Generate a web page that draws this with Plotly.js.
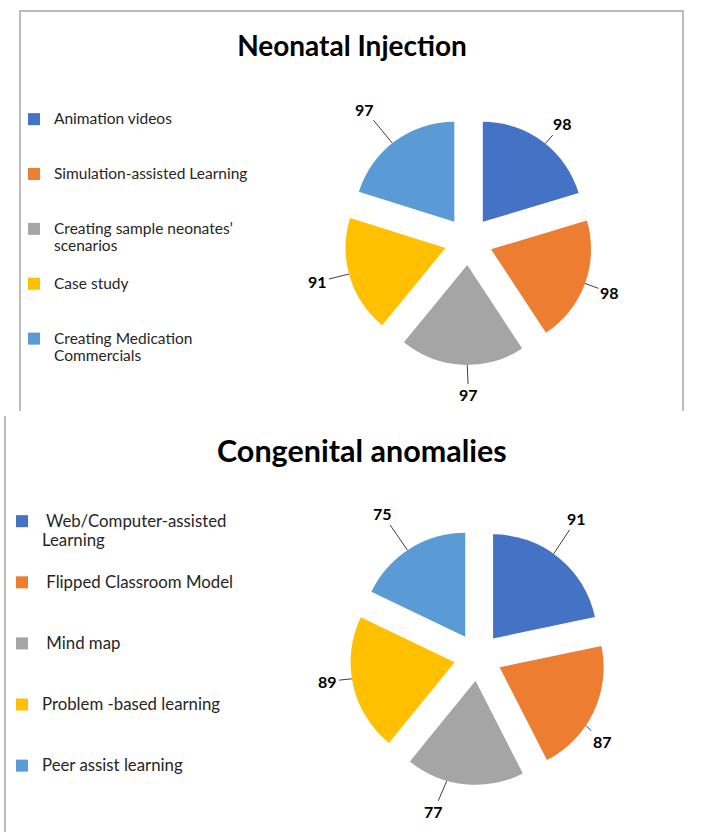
<!DOCTYPE html>
<html>
<head>
<meta charset="utf-8">
<script src="https://cdn.plot.ly/plotly-3.0.1.min.js"></script>
<style>
  html, body { margin: 0; padding: 0; background: #ffffff; }
  #chart { width: 709px; height: 832px; }
</style>
</head>
<body>
<div id="chart"></div>
<script>
// Teaching strategies rated for each topic (%)
const injectionTitle = "Neonatal Injection";
const injectionLabels = [
  "Animation videos",
  "Simulation-assisted Learning",
  "Creating sample neonates\u2019<br>scenarios",
  "Case study",
  "Creating Medication<br>Commercials"
];
const injectionValues = [98, 98, 97, 91, 97];

const anomalyTitle = "Congenital anomalies";
const anomalyLabels = [
  "\u00a0Web/Computer-assisted<br>Learning",
  "\u00a0Flipped Classroom Model",
  "\u00a0Mind map",
  "Problem -based learning",
  "Peer assist learning"
];
const anomalyValues = [91, 87, 77, 89, 75];

const sliceColors = ["#4472C4", "#ED7D31", "#A5A5A5", "#FFC000", "#5B9BD5"];

// label placement: angular nudge (deg) and distance beyond the slice edge (px)
const injectionLabelNudge = [2, 0, -3, 1.5, -2];
const injectionLabelGap = [26, 26, 30, 32, 44];
const anomalyLabelNudge = [-3.5, 8.5, 10, 3.5, -1.5];
const anomalyLabelGap = [42, 22, 33, 24, 44];

const W = 709, H = 832;
const FONT = "Lato, Carlito, Calibri, 'Open Sans', sans-serif";
const fx = p => p / W;          // pixel -> paper x
const fy = p => 1 - p / H;      // pixel -> paper y

// every legend entry gets the same number of lines so the entries are evenly spaced;
// the visible text is set a little larger than the legend's line pitch
function legendText(label, n, size) {
  const lines = label.split("<br>").map(l => '<span style="font-size:' + size + 'px">' + l + "</span>");
  while (lines.length < n) lines.push("\u00a0");
  return lines.join("<br>");
}

const topPull = 0.24, bottomPull = 0.23;

const traces = [
  {
    type: "pie",
    labels: injectionLabels.map(s => legendText(s, 3, 15.5)),
    values: injectionValues,
    sort: false,
    direction: "clockwise",
    rotation: 0,
    pull: topPull,
    marker: { colors: sliceColors, line: { width: 0 } },
    textinfo: "none",
    hoverinfo: "label+value",
    domain: { x: [fx(344.5), fx(592.5)], y: [fy(365), fy(117)] },
    legend: "legend"
  },
  {
    type: "pie",
    labels: anomalyLabels.map(s => legendText(s, 3, 16.8)),
    values: anomalyValues,
    sort: false,
    direction: "clockwise",
    rotation: 0,
    pull: bottomPull,
    marker: { colors: sliceColors, line: { width: 0 } },
    textinfo: "none",
    hoverinfo: "label+value",
    domain: { x: [fx(350), fx(606)], y: [fy(785), fy(529)] },
    legend: "legend2"
  }
];

// panel frames
const frameColor = "#a6a6a6";
function pathPx(points) {
  return points.map((p, i) => (i ? "L" : "M") + fx(p[0]).toFixed(5) + "," + fy(p[1]).toFixed(5)).join(" ");
}
const shapes = [
  { type: "path", xref: "paper", yref: "paper",
    path: pathPx([[20, 411], [20, 11], [683, 11], [683, 411]]),
    line: { color: frameColor, width: 1.5 } },
  { type: "path", xref: "paper", yref: "paper",
    path: pathPx([[5, 416], [5, 832]]),
    line: { color: frameColor, width: 1.5 } }
];

const titleAnnotation = {
  xref: "paper", yref: "paper", x: fx(362), y: fy(450),
  xanchor: "center", yanchor: "middle", showarrow: false,
  text: "<b>" + anomalyTitle + "</b>",
  font: { family: FONT, size: 30.5, color: "#000000" }
};

const layout = {
  width: W, height: H,
  margin: { l: 0, r: 0, t: 0, b: 0 },
  paper_bgcolor: "#ffffff",
  showlegend: true,
  title: {
    text: "<b>" + injectionTitle + "</b>",
    x: fx(352), xref: "paper", xanchor: "center",
    y: fy(46), yref: "container", yanchor: "middle",
    font: { family: FONT, size: 28, color: "#000000" }
  },
  legend: {
    x: fx(14), xanchor: "left", y: fy(104), yanchor: "top",
    orientation: "v", valign: "top",
    font: { family: FONT, size: 13.3, color: "#262626" },
    bgcolor: "rgba(0,0,0,0)", borderwidth: 0
  },
  legend2: {
    x: fx(2), xanchor: "left", y: fy(505), yanchor: "top",
    orientation: "v", valign: "top",
    font: { family: FONT, size: 14.9, color: "#262626" },
    bgcolor: "rgba(0,0,0,0)", borderwidth: 0
  },
  shapes: shapes,
  annotations: [titleAnnotation]
};

// value labels with leader lines, placed outside each slice
function valueLabels(gd, traceIndex, values, pull, nudges, gaps) {
  const cd = gd.calcdata[traceIndex];
  const c = cd[0];
  const total = values.reduce((a, b) => a + b, 0);
  let acc = 0;
  return cd.map((pt, i) => {
    let mid;
    if (pt.pxmid) {
      mid = Math.atan2(pt.pxmid[0], -pt.pxmid[1]);
    } else {
      mid = 2 * Math.PI * (acc + values[i] / 2) / total;
    }
    acc += values[i];
    const a = mid + nudges[i] * Math.PI / 180;
    // slice centre after the pull, then a point on its arc
    const sx = c.cx + pull * c.r * Math.sin(mid);
    const sy = c.cy - pull * c.r * Math.cos(mid);
    const ex = sx + c.r * Math.sin(a);
    const ey = sy - c.r * Math.cos(a);
    const D = (1 + pull) * c.r + gaps[i];
    const lx = c.cx + D * Math.sin(a);
    const ly = c.cy - D * Math.cos(a);
    return {
      xref: "paper", yref: "paper", x: fx(ex), y: fy(ey),
      ax: lx - ex, ay: ly - ey,
      showarrow: true, arrowhead: 0, arrowwidth: 1, arrowcolor: "#404040", standoff: 0,
      text: "<b>" + values[i] + "</b>",
      font: { family: FONT, size: 16, color: "#000000" }
    };
  });
}

const gd = document.getElementById("chart");
Plotly.newPlot(gd, traces, layout, { displayModeBar: false, staticPlot: true }).then(() => {
  const labels = [titleAnnotation]
    .concat(valueLabels(gd, 0, injectionValues, topPull, injectionLabelNudge, injectionLabelGap))
    .concat(valueLabels(gd, 1, anomalyValues, bottomPull, anomalyLabelNudge, anomalyLabelGap));
  return Plotly.relayout(gd, { annotations: labels });
});
</script>
</body>
</html>
